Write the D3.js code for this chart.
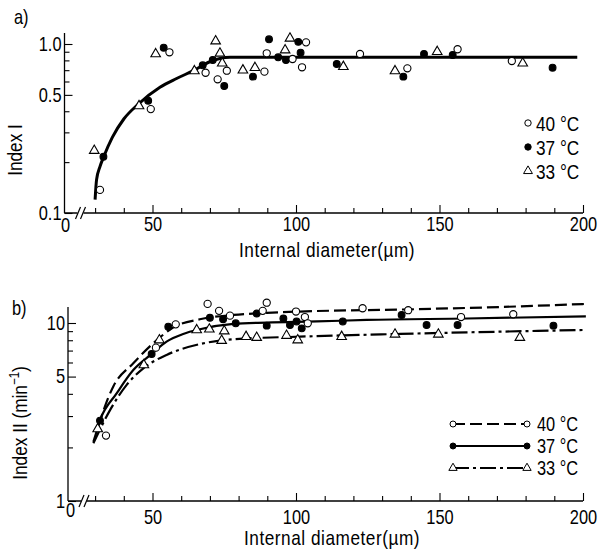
<!DOCTYPE html>
<html><head><meta charset="utf-8">
<script src="https://cdn.jsdelivr.net/npm/d3@7"></script>
<style>
body{margin:0;background:#fff}
svg{display:block;background:#fff}
text{font-family:"Liberation Sans",Arial,sans-serif;fill:#000}
</style>
</head><body>
<svg id="c" width="599" height="555"></svg>
<script>
// ---------- data ----------
const xTickValues = [30,40,50,60,70,80,90,100,110,120,130,140,150,160,170,180,190,200];
const xTickLabels = [50,100,150,200];

const yaTickValues = [0.1,0.2,0.3,0.4,0.5,0.6,0.7,0.8,0.9,1.0];
const yaTickLabels = [0.1,0.5,1.0];
const ybTickValues = [1,2,3,4,5,6,7,8,9,10];
const ybTickLabels = [1,5,10];

// Panel a) Index I
const a40 = [[31.7,0.137],[49.4,0.412],[55.9,0.893],[68.5,0.676],[72.7,0.618],[75.9,0.695],[89.0,0.686],[89.8,0.881],[98.8,0.815],[102.1,0.728],[103.5,1.023],[122.3,0.873],[138.8,0.718],[156.3,0.931],[175.2,0.793]];
const a37 = [[32.9,0.215],[48.5,0.462],[53.9,0.951],[67.5,0.748],[71.0,0.804],[75.0,0.564],[85.0,0.641],[90.6,1.066],[93.8,0.834],[96.5,0.804],[100.8,1.03],[101.6,0.889],[114.2,0.762],[137.4,0.641],[144.6,0.873],[154.6,0.861],[189.4,0.724]];
const a33 = [[29.7,0.234],[45.3,0.43],[51.1,0.873],[64.6,0.692],[72.0,1.04],[73.5,0.88],[74.3,0.769],[81.5,0.70],[85.7,0.724],[96.2,0.92],[97.9,1.08],[116.5,0.734],[134.5,0.692],[149.2,0.90],[179.0,0.769]];
const aCurve = [[30,0.12],[30.5,0.157],[31.7,0.188],[33,0.215],[36,0.28],[40,0.36],[45,0.44],[52.6,0.555],[58.4,0.625],[64.2,0.695],[70,0.785],[73.5,0.82],[77,0.834],[198,0.834]];

// Panel b) Index II (min^-1)
const b40 = [[33.8,2.33],[51.2,7.27],[58.1,9.83],[69.2,12.8],[73.2,11.7],[77.0,11.0],[88.4,11.7],[89.8,13.0],[100,11.6],[103.1,10.8],[104.1,9.96],[123.2,12.1],[139.1,11.8],[157.5,10.8],[175.7,11.2]];
const b37 = [[31.7,2.83],[49.7,6.70],[55.5,9.53],[70,10.7],[74.6,10.5],[79.0,9.96],[86.3,11.3],[89.8,9.66],[95.6,10.6],[97.9,9.74],[100.2,10.2],[102.0,9.33],[116.3,10.2],[136.8,11.1],[145.5,9.74],[156.3,9.74],[189.7,9.66]];
const b33 = [[30.9,2.54],[47.0,5.81],[52.4,8.02],[65.4,9.14],[69.8,9.22],[75.0,9.0],[74.1,7.96],[82.6,8.38],[86.3,8.28],[96.7,8.5],[100.6,8.02],[115.9,8.38],[134.5,8.64],[149.6,8.64],[178.0,8.28]];
const c40 = [[29.4,2.15],[36.3,4.39],[43.3,5.94],[51.5,8.02],[57.3,9.45],[66.5,10.5],[78.2,11.1],[89.8,11.4],[101.4,11.6],[136.2,11.9],[171.1,12.3],[201,12.8]];
const c37 = [[30.5,2.5],[31.7,2.85],[37.5,4.02],[43.3,5.44],[49.7,6.7],[54.9,7.86],[60.7,8.68],[66.5,9.22],[78.2,9.88],[89.8,10.05],[107.2,10.2],[124.6,10.4],[159.5,10.6],[201,10.9]];
const c33 = [[29.4,2.11],[35.2,3.24],[41,4.49],[46.8,5.56],[54.9,6.62],[66.5,7.61],[78.2,8.1],[101.4,8.38],[136.2,8.68],[171.1,8.94],[201,9.14]];

const seriesNames = ["40 °C","37 °C","33 °C"];

// ---------- drawing ----------
const svg = d3.select('#c');
const x = d3.scaleLinear().domain([50,200]).range([152.5,583]);
const ya = d3.scaleLog().domain([0.1,1]).range([213,44]);
const yb = d3.scaleLog().domain([1,10]).range([501,323]);

const FS = 20;      // font size
const SX = 0.82;    // horizontal condensing
const triSym = d3.symbol(d3.symbolTriangle, 40);

// narrow text placed at (tx,ty)
function ntext(parent, tx, ty, str, anchor, fs, rot) {
  return parent.append('text')
    .attr('transform', `translate(${tx},${ty})${rot ? ' rotate(' + rot + ')' : ''} scale(${SX},1)`)
    .attr('text-anchor', anchor || 'start').attr('font-size', fs || FS).text(str);
}

function drawMarks(g, y, data, kind) {
  const sel = g.append('g');
  if (kind === 'tri') {
    sel.selectAll('path').data(data).join('path')
      .attr('d', triSym)
      .attr('transform', d => `translate(${x(d[0])},${y(d[1])})`)
      .attr('fill', '#fff').attr('stroke', '#000').attr('stroke-width', 1.1);
  } else {
    sel.selectAll('circle').data(data).join('circle')
      .attr('cx', d => x(d[0])).attr('cy', d => y(d[1]))
      .attr('r', kind === 'open' ? 3.6 : 3.4)
      .attr('fill', kind === 'open' ? '#fff' : '#000')
      .attr('stroke', '#000').attr('stroke-width', 1.1);
  }
}

function axes(y, yAxisX, yTop, yTickValues, yTickLabels, yFmt, xLabelBase, zeroX, zeroBase) {
  const base = y.range()[0];
  const g = svg.append('g');
  // x axis
  const xa = d3.axisBottom(x).tickValues(xTickValues).tickSize(-5).tickPadding(0)
    .tickFormat(d => xTickLabels.includes(d) ? d : "");
  const gx = g.append('g').attr('transform', `translate(0,${base})`).call(xa);
  gx.select('.domain').remove();
  gx.selectAll('.tick line').attr('y2', d => xTickLabels.includes(d) ? -8 : -5)
    .attr('stroke', '#000').attr('stroke-width', 1.1);
  gx.selectAll('.tick text').attr('y', 0).attr('dy', null)
    .attr('transform', `translate(0,${xLabelBase - base}) scale(${SX},1)`)
    .attr('font-size', FS).attr('font-family', null).attr('fill', '#000');
  // y axis
  const isLab = d => yTickLabels.some(v => Math.abs(v - d) < 1e-9);
  const yaxis = d3.axisLeft(y).tickValues(yTickValues).tickSize(-5).tickPadding(0)
    .tickFormat(d => isLab(d) ? yFmt(d) : "");
  const gy = g.append('g').attr('transform', `translate(${yAxisX},0)`).call(yaxis);
  gy.select('.domain').remove();
  gy.selectAll('.tick line').attr('x2', d => isLab(d) ? 8 : 5)
    .attr('stroke', '#000').attr('stroke-width', 1.1);
  gy.selectAll('.tick text').attr('x', 0)
    .attr('transform', `translate(-3,0) scale(${SX},1)`)
    .attr('font-size', FS).attr('font-family', null).attr('fill', '#000');
  // axis lines
  g.append('line').attr('x1', yAxisX).attr('x2', yAxisX).attr('y1', base).attr('y2', yTop)
    .attr('stroke', '#000').attr('stroke-width', 1.3);
  g.append('line').attr('x1', yAxisX).attr('x2', x(200)).attr('y1', base).attr('y2', base)
    .attr('stroke', '#000').attr('stroke-width', 1.3);
  // break
  const bx = yAxisX + 16;
  g.append('rect').attr('x', bx - 3).attr('y', base - 2).attr('width', 6).attr('height', 4).attr('fill', '#fff');
  [-2.5, 2.5].forEach(o => g.append('line')
    .attr('x1', bx + o - 2.5).attr('y1', base + 6).attr('x2', bx + o + 2.5).attr('y2', base - 6)
    .attr('stroke', '#000').attr('stroke-width', 1.2));
  ntext(g, zeroX, zeroBase, '0', 'middle');
}

// Panel a
axes(ya, 64.5, 33, yaTickValues, yaTickLabels, d => d3.format('.1f')(d), 231, 65.5, 232);
const gA = svg.append('g');
gA.append('path').datum(aCurve)
  .attr('d', d3.line().x(d => x(d[0])).y(d => ya(d[1])).curve(d3.curveMonotoneX))
  .attr('fill', 'none').attr('stroke', '#000').attr('stroke-width', 3);
drawMarks(gA, ya, a33, 'tri');
drawMarks(gA, ya, a37, 'filled');
drawMarks(gA, ya, a40, 'open');

// Panel b
axes(yb, 68, 307, ybTickValues, ybTickLabels, d => d3.format('d')(d), 524, 70.5, 517);
const gB = svg.append('g');
const lineB = d3.line().x(d => x(d[0])).y(d => yb(d[1])).curve(d3.curveMonotoneX);
const styles = [
  {curve: c40, dash: '12,5'},
  {curve: c37, dash: null},
  {curve: c33, dash: '16,4,3,4'}
];
styles.forEach(s => {
  gB.append('path').datum(s.curve).attr('d', lineB)
    .attr('fill', 'none').attr('stroke', '#000').attr('stroke-width', 2.2)
    .attr('stroke-dasharray', s.dash);
});
drawMarks(gB, yb, b33, 'tri');
drawMarks(gB, yb, b37, 'filled');
drawMarks(gB, yb, b40, 'open');

// Legend a
const kinds = ['open', 'filled', 'tri'];
const legA = svg.append('g');
const legAy = [123, 147, 171];
kinds.forEach((k, i) => {
  if (k === 'tri') {
    legA.append('path').attr('d', d3.symbol(d3.symbolTriangle, 34)()).attr('transform', `translate(528,${legAy[i]})`)
      .attr('fill', '#fff').attr('stroke', '#000').attr('stroke-width', 1);
  } else {
    legA.append('circle').attr('cx', 528).attr('cy', legAy[i]).attr('r', 3.2)
      .attr('fill', k === 'open' ? '#fff' : '#000').attr('stroke', '#000').attr('stroke-width', 1);
  }
  ntext(legA, 536, legAy[i] + 7.5, seriesNames[i], 'start', FS + 1);
});

// Legend b
const legB = svg.append('g');
const legBy = [424, 446, 468];
kinds.forEach((k, i) => {
  legB.append('line').attr('x1', 453).attr('x2', 527).attr('y1', legBy[i]).attr('y2', legBy[i])
    .attr('stroke', '#000').attr('stroke-width', 2).attr('stroke-dasharray', styles[i].dash);
  [453, 527].forEach(cx => {
    if (k === 'tri') {
      legB.append('path').attr('d', d3.symbol(d3.symbolTriangle, 30)()).attr('transform', `translate(${cx},${legBy[i]})`)
        .attr('fill', '#fff').attr('stroke', '#000').attr('stroke-width', 1);
    } else {
      legB.append('circle').attr('cx', cx).attr('cy', legBy[i]).attr('r', 3)
        .attr('fill', k === 'open' ? '#fff' : '#000').attr('stroke', '#000').attr('stroke-width', 1);
    }
  });
  ntext(legB, 537, legBy[i] + 7, seriesNames[i], 'start', FS);
});

// Titles
ntext(svg, 14, 24, 'a)');
ntext(svg, 12, 315, 'b)');
ntext(svg, 327, 257, 'Internal diameter(µm)', 'middle', FS + 1).attr('letter-spacing', 0.65);
ntext(svg, 332, 545, 'Internal diameter(µm)', 'middle', FS + 1).attr('letter-spacing', 0.65);
ntext(svg, 22, 150, 'Index I', 'middle', FS + 1, -90);
const t2 = svg.append('text').attr('transform', `translate(27,423) rotate(-90) scale(${SX},1)`)
  .attr('text-anchor', 'middle').attr('font-size', FS + 1);
t2.append('tspan').text('Index II (min');
t2.append('tspan').attr('dy', -8).attr('font-size', 14).text('−1');
t2.append('tspan').attr('dy', 8).text(')');
</script>
</body></html>
